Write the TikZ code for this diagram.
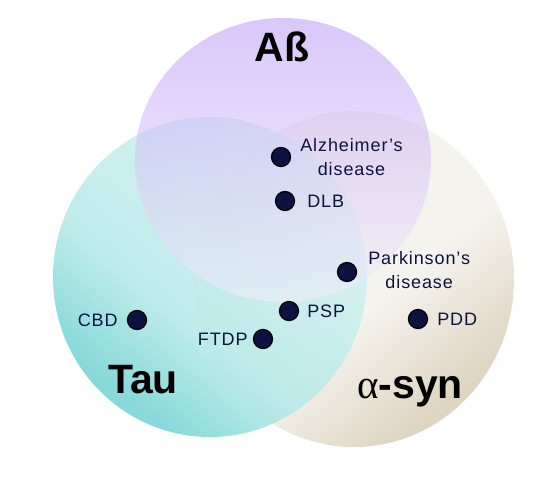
\documentclass[tikz,border=0pt]{standalone}
\usepackage{fontspec}
\setmainfont{Liberation Sans}
\newfontfamily\greekfont{Liberation Serif}
\usetikzlibrary{positioning}
\definecolor{navy}{HTML}{0E1241}
\definecolor{tauDark}{HTML}{74D3D4}
\definecolor{tauMid}{HTML}{B4E9E8}
\definecolor{tauLight}{HTML}{DAF3F1}
\definecolor{synDark}{HTML}{DFD6C2}
\definecolor{synLight}{HTML}{F5F3EE}
\definecolor{abTop}{HTML}{B591F5}
\definecolor{abBottom}{HTML}{F5F0FA}
\pgfdeclareverticalshading{synshade}{100bp}{color(0bp)=(synDark); color(27bp)=(synDark); color(45bp)=(synLight); color(100bp)=(synLight)}
\pgfdeclareverticalshading{taushade}{100bp}{color(0bp)=(tauDark); color(27bp)=(tauDark); color(42bp)=(tauMid); color(75bp)=(tauLight); color(100bp)=(tauLight)}
\tikzset{
  dot/.style={
    circle,
    draw=black,
    fill=navy,
    line width=1.3pt,
    minimum size=19pt,
    inner sep=0pt
  },
  lbl/.style={
    text=navy,
    font=\fontsize{18}{24}\selectfont\addfontfeature{LetterSpace=5},
    inner sep=0pt,
    align=center
  },
  big/.style={
    font=\fontsize{41}{41}\selectfont\bfseries,
    inner sep=0pt,
    anchor=base
  }
}

\begin{document}
\begin{tikzpicture}[x=1pt, y=-1pt, node distance=10pt]
  \useasboundingbox (0,0) rectangle (555,477);
  \fill[white] (0,0) rectangle (555,477);

  % Circles
  \shade[shading=synshade, shading angle=40] (354,279) ellipse [x radius=160pt, y radius=168pt];
  \shade[shading=taushade, shading angle=-40, fill opacity=0.85] (210,277) ellipse [x radius=157pt, y radius=160pt];
  \shade[top color=abTop, bottom color=abBottom, fill opacity=0.5] (283,160) ellipse [x radius=148pt, y radius=142pt];

  % Titles
  \node[big] (ab) at (282,61) {Aß};
  \node[big] (tau) at (143,393) {Tau};
  \node[big] (asyn) at (410,398) {{\greekfont\mdseries α}-syn};

  % Diseases
  \node[dot] (ad) at (281,157) {};
  \node[lbl, right=9pt of ad] (adtext) {Alzheimer’s\\disease};
  \node[dot] (dlb) at (285,201) {};
  \node[lbl, right=12pt of dlb] (dlbtext) {DLB};
  \node[dot] (pd) at (347,272) {};
  \node[lbl, right=11pt of pd, yshift=2pt] (pdtext) {Parkinson’s\\disease};
  \node[dot] (pdd) at (418,319) {};
  \node[lbl, right=9pt of pdd] (pddtext) {PDD};
  \node[dot] (psp) at (289,311) {};
  \node[lbl, right=8pt of psp] (psptext) {PSP};
  \node[dot] (cbd) at (137,320) {};
  \node[lbl, left=9pt of cbd] (cbdtext) {CBD};
  \node[dot] (ftdp) at (263,339) {};
  \node[lbl, left=5pt of ftdp] (ftdptext) {FTDP};
\end{tikzpicture}
\end{document}
